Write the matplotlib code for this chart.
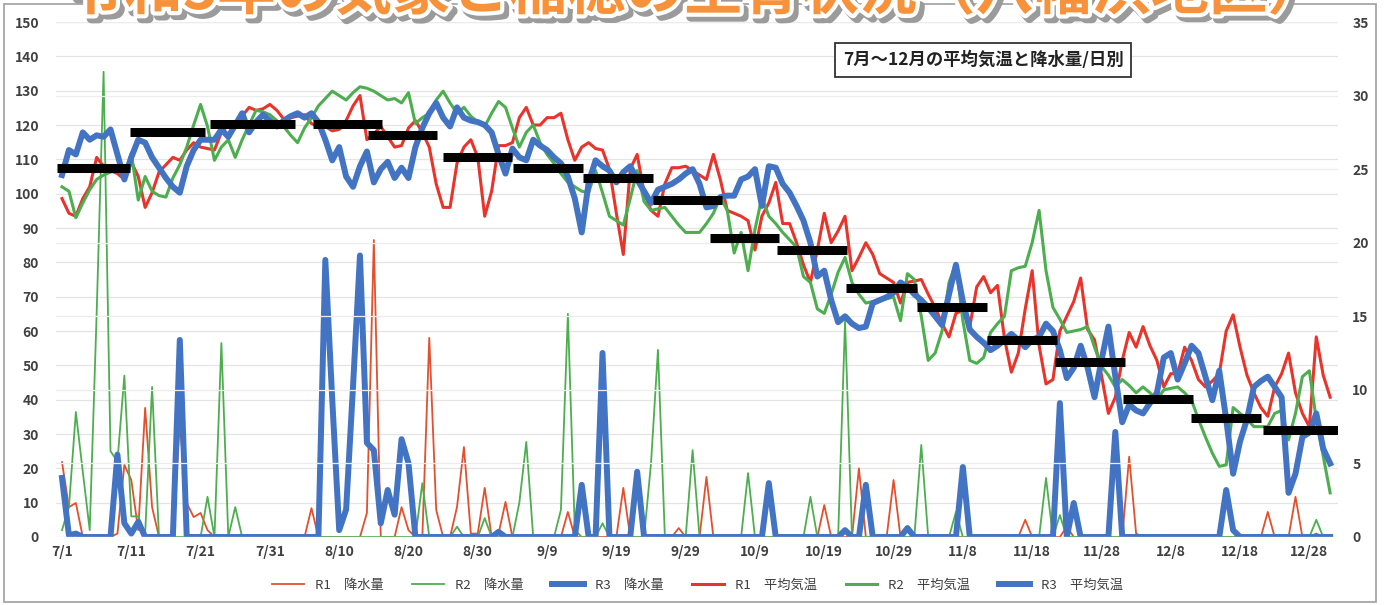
import matplotlib
matplotlib.use("Agg")
import matplotlib.pyplot as plt
import matplotlib.patheffects as pe
from matplotlib.patches import Rectangle
import numpy as np
import pandas as pd

plt.rcParams['font.family'] = ['Noto Sans CJK JP', 'DejaVu Sans']

title = "令和3年の気象と稲穂の生育状況（八幡浜地区）"
box_text = "7月～12月の平均気温と降水量/日別"
start_date = "2021-07-01"
n_days = 184

# daily precipitation (mm), 7/1 .. 12/31
rain_r1 = [21.8, 8.7, 9.9, 0, 0, 0, 0, 0, 1.0, 21.0,
           16.6, 2.0, 37.6, 8.7, 0, 0, 0, 33.0, 9.9, 5.8,
           7.0, 2.0, 0, 0, 0, 0, 0, 0, 0, 0,
           0, 0, 0, 0, 0, 0, 8.4, 0, 0, 0,
           0, 0, 0, 0, 7.0, 86.5, 0, 0, 0, 8.7,
           2.0, 0, 0, 58.0, 7.9, 0, 0, 8.7, 26.2, 1.0,
           1.0, 14.3, 0, 1.0, 10.2, 0, 0, 0, 0, 0,
           0, 0, 0, 7.3, 0, 0, 0, 0, 0, 0,
           0, 14.3, 0, 0, 0, 0, 0, 0, 0, 2.6,
           0, 0, 0, 17.5, 0, 0, 0, 0, 0, 0,
           0, 0, 0, 0, 0, 0, 0, 0, 0, 0,
           9.3, 0, 0, 0, 0, 20.0, 0, 0, 0, 0,
           16.6, 0, 0, 0, 0, 0, 0, 0, 0, 0,
           0, 0, 0, 0, 0, 0, 0, 0, 0, 5.0,
           0, 0, 0, 0, 0, 3.0, 0, 0, 0, 0,
           0, 0, 0, 0, 23.4, 1.0, 0, 0, 0, 0,
           0, 0, 0, 0, 0, 0, 0, 0, 0, 0,
           0, 0, 0, 0, 7.3, 0, 0, 0, 11.7, 0,
           0, 1.0, 0, 0]
rain_r2 = [2.0, 8.7, 36.4, 19.0, 2.0, 65.0, 135.5, 25.0, 22.0, 47.0,
           6.0, 6.0, 1.0, 43.7, 0, 0, 0, 0, 0, 0,
           0, 11.7, 0, 56.5, 0, 8.7, 0, 0, 0, 0,
           0, 0, 0, 0, 0, 0, 0, 0, 0, 0,
           0, 0, 0, 0, 0, 0, 0, 0, 0, 0,
           0, 0, 15.7, 0, 0, 0, 0, 3.0, 0, 0,
           0, 5.5, 0, 0, 0, 0, 10.0, 27.7, 0, 0,
           0, 0, 7.9, 65.0, 2.0, 0, 0, 0, 4.0, 0,
           0, 0, 0, 0, 0, 21.5, 54.5, 0, 0, 0,
           0, 25.3, 0, 0, 0, 0, 0, 0, 0, 18.6,
           0, 0, 0, 0, 0, 0, 0, 0, 11.7, 0,
           0, 0, 0, 63.0, 0, 0, 0, 0, 0, 0,
           0, 0, 0, 0, 26.8, 0, 0, 0, 0, 7.3,
           0, 0, 0, 0, 0, 0, 0, 0, 0, 0,
           0, 0, 17.2, 0, 6.4, 0, 0, 0, 0, 0,
           0, 0, 0, 0, 0, 0, 0, 0, 0, 0,
           0, 0, 0, 0, 0, 0, 0, 0, 0, 0,
           0, 0, 0, 0, 0, 0, 0, 0, 0, 0,
           0, 5.0, 0, 0]
rain_r3 = [17.2, 0.5, 1.0, 0, 0, 0, 0, 0, 24.0, 4.0,
           1.0, 4.4, 0, 0, 0, 0, 0, 57.4, 0, 0,
           0, 0, 0, 0, 0, 0, 0, 0, 0, 0,
           0, 0, 0, 0, 0, 0, 0, 0, 80.7, 40.0,
           2.0, 8.0, 44.0, 82.0, 27.4, 25.3, 4.0, 13.7, 6.5, 28.5,
           21.5, 0, 0, 0, 0, 0, 0, 0, 0, 0,
           0, 0, 0, 1.5, 0, 0, 0, 0, 0, 0,
           0, 0, 0, 0, 0, 15.2, 0, 0, 53.6, 0,
           0, 0, 0, 19.0, 0, 0, 0, 0, 0, 0,
           0, 0, 0, 0, 0, 0, 0, 0, 0, 0,
           0, 0, 15.7, 0, 0, 0, 0, 0, 0, 0,
           0, 0, 0, 2.0, 0, 0, 15.2, 0, 0, 0,
           0, 0, 2.6, 0, 0, 0, 0, 0, 0, 0,
           20.4, 0, 0, 0, 0, 0, 0, 0, 0, 0,
           0, 0, 0, 0, 39.0, 0, 9.9, 0, 0, 0,
           0, 0, 30.6, 0, 0, 0, 0, 0, 0, 0,
           0, 0, 0, 0, 0, 0, 0, 0, 13.7, 2.0,
           0, 0, 0, 0, 0, 0, 0, 0, 0, 0,
           0, 0, 0, 0]

# daily mean temperature (deg C)
temp_r1 = [23.0, 22.0, 21.8, 23.0, 23.8, 25.8, 25.2, 24.9, 24.7, 24.3,
           25.5, 24.5, 22.4, 23.4, 24.8, 25.3, 25.8, 25.6, 26.3, 26.8,
           26.5, 26.4, 26.3, 27.5, 28.0, 28.1, 28.6, 29.2, 29.0, 29.1,
           29.4, 29.0, 28.4, 28.5, 28.6, 28.7, 28.1, 27.9, 27.9, 27.6,
           27.7, 28.3, 29.3, 30.0, 27.0, 27.4, 27.9, 27.2, 26.5, 26.6,
           27.8, 28.3, 27.5, 26.5, 24.0, 22.4, 22.4, 25.4, 26.5, 27.0,
           25.8, 21.8, 23.5, 26.6, 26.6, 26.8, 28.5, 29.2, 28.0, 28.0,
           28.5, 28.5, 28.8, 27.0, 25.6, 26.5, 26.8, 26.4, 26.3, 25.0,
           22.0, 19.2, 25.0, 26.0, 23.4, 22.2, 21.8, 24.0, 25.1, 25.1,
           25.2, 24.9, 24.6, 24.3, 26.0, 24.3, 22.2, 22.0, 21.8, 21.5,
           19.5, 21.8, 22.7, 24.1, 21.3, 21.3, 20.0, 18.5, 17.3, 19.5,
           22.0, 20.0, 20.8, 21.8, 18.1, 19.0, 20.0, 19.2, 17.9, 17.6,
           17.3, 15.9, 17.3, 17.4, 17.5, 16.5, 15.6, 14.5, 13.6, 15.2,
           15.4, 14.3, 17.0, 17.7, 16.6, 17.1, 13.5, 11.2, 12.5, 15.5,
           18.1, 13.0, 10.4, 10.7, 14.0, 15.0, 16.0, 17.6, 14.1, 13.4,
           11.0, 8.4, 9.5, 12.0, 13.9, 12.9, 14.3, 13.0, 12.0, 10.2,
           11.1, 11.1, 12.9, 12.0, 10.7, 10.2, 10.6, 11.1, 14.0, 15.1,
           12.9, 11.0, 9.8, 8.8, 8.2, 10.2, 11.1, 12.5, 9.8, 8.4,
           7.5, 13.6, 11.0, 9.5]
temp_r2 = [23.8, 23.5, 21.7, 22.7, 23.6, 24.3, 24.6, 24.8, 24.9, 24.7,
           26.1, 22.9, 24.5, 23.5, 23.2, 23.1, 24.4, 25.3, 26.5, 28.0,
           29.4, 27.9, 25.6, 26.5, 27.0, 25.8, 27.0, 28.0, 29.0, 28.9,
           28.7, 28.3, 27.9, 27.3, 26.8, 27.8, 28.5, 29.3, 29.8, 30.3,
           30.0, 29.7, 30.2, 30.6, 30.5, 30.3, 30.0, 29.7, 29.8, 29.5,
           30.2, 28.1, 28.5, 28.8, 29.7, 30.3, 29.5, 28.8, 29.2, 28.6,
           28.2, 27.9, 28.8, 29.6, 29.2, 27.8, 26.5, 27.5, 28.0, 26.8,
           26.0, 25.4, 24.7, 24.1, 23.8, 23.5, 23.4, 24.9, 23.4, 21.8,
           21.5, 21.2, 23.0, 24.9, 22.8, 22.2, 22.3, 22.4, 21.8, 21.2,
           20.7, 20.7, 20.7, 21.3, 22.0, 23.1, 22.2, 19.3, 20.7, 18.1,
           20.9, 23.1, 21.8, 21.3, 20.7, 20.2, 19.7, 17.7, 17.3, 15.5,
           15.2, 16.5, 18.0, 19.0, 17.3, 16.5, 15.9, 16.0, 16.1, 16.2,
           16.3, 14.7, 17.9, 17.5, 15.0, 12.0, 12.5, 14.0, 17.3, 18.6,
           14.7, 12.0, 11.8, 12.2, 13.9, 14.5, 15.0, 18.1, 18.3, 18.4,
           20.0, 22.2, 18.1, 15.6, 14.8, 13.9, 14.0, 14.1, 14.3, 12.9,
           11.6, 11.0, 10.2, 10.7, 10.3, 9.8, 10.2, 9.8, 9.3, 10.0,
           10.1, 10.2, 9.8, 9.3, 8.0, 6.8, 5.7, 4.8, 4.9, 8.8,
           8.4, 8.0, 7.5, 7.5, 7.5, 8.4, 8.6, 6.6, 8.4, 10.9,
           11.3, 8.0, 5.5, 3.0]
temp_r3 = [24.6, 26.3, 26.0, 27.5, 27.0, 27.3, 27.2, 27.7, 26.0, 24.3,
           25.8, 27.0, 26.8, 25.8, 25.1, 24.4, 23.8, 23.4, 25.2, 26.3,
           27.0, 27.0, 27.0, 27.7, 27.2, 28.0, 28.8, 27.5, 28.2, 28.7,
           28.3, 27.9, 28.3, 28.6, 28.8, 28.5, 28.8, 28.2, 27.0, 25.6,
           26.5, 24.5, 23.8, 25.2, 26.2, 24.1, 25.0, 25.5, 24.4, 25.1,
           24.4, 26.5, 27.8, 28.8, 29.5, 28.5, 27.9, 29.2, 28.5, 28.3,
           28.2, 28.0, 27.5, 26.0, 24.7, 26.4, 25.8, 25.6, 27.0, 26.6,
           26.3, 25.8, 25.4, 24.5, 23.0, 20.7, 24.1, 25.6, 25.2, 24.9,
           24.1, 24.8, 25.2, 24.3, 23.5, 22.7, 23.6, 23.8, 24.0, 24.3,
           24.7, 25.0, 24.0, 22.4, 22.5, 23.1, 23.2, 23.2, 24.3, 24.5,
           25.0, 22.5, 25.2, 25.1, 24.0, 23.4, 22.5, 21.5, 20.0, 17.7,
           18.1, 16.1, 14.6, 15.0, 14.5, 14.2, 14.3, 15.9, 16.1, 16.3,
           16.6, 17.3, 17.0, 16.5, 16.1, 15.6, 15.0, 14.4, 16.5, 18.5,
           16.0, 14.1, 13.6, 13.2, 12.7, 13.0, 13.4, 13.8, 13.4, 12.9,
           13.4, 13.6, 14.5, 14.0, 12.7, 10.8, 11.5, 13.0, 11.5, 9.5,
           12.0, 14.3, 10.9, 7.8, 9.0, 8.6, 8.4, 9.1, 9.8, 12.2,
           12.5, 10.7, 11.8, 13.0, 12.5, 10.9, 9.3, 11.3, 8.0, 4.3,
           6.5, 8.0, 10.2, 10.6, 10.9, 10.2, 9.5, 3.0, 4.3, 6.8,
           7.1, 8.4, 6.0, 5.0]

# period averages (black bars): first day, last day (day index from 7/1), deg C
avg_start = [-0.7, 9.8, 21.4, 36.2, 44.2, 55.0, 65.1, 75.2, 85.3, 93.5,
             103.2, 113.1, 123.4, 133.5, 143.3, 153.1, 162.9, 173.3]
avg_end = [9.8, 20.6, 33.6, 46.2, 54.1, 64.9, 75.2, 85.3, 95.2, 103.5,
           113.3, 123.4, 133.5, 143.6, 153.4, 163.2, 173.0, 184.1]
avg_temp = [25.1, 27.5, 28.1, 28.1, 27.3, 25.8, 25.1, 24.4, 22.9, 20.3,
            19.5, 16.9, 15.6, 13.4, 11.9, 9.4, 8.1, 7.3]

red = '#E8342B'
red_thin = '#E2502E'
green = '#4DAE4F'
blue = '#4374C3'
txt = '#404040'

dates = pd.date_range(start_date, periods=n_days, freq='D')
days = np.arange(n_days)

fig = plt.figure(figsize=(13.87, 6.05), dpi=100)
ax = fig.add_axes([0.0402, 0.1124, 0.9248, 0.8512])
ax2 = ax.twinx()

# precipitation (left axis)
ax.plot(days, rain_r1, color=red_thin, lw=1.3, label='R1　降水量')
ax.plot(days, rain_r2, color=green, lw=1.3, label='R2　降水量')
ax.plot(days, rain_r3, color=blue, lw=4.3, label='R3　降水量', solid_joinstyle='round')

# temperature (right axis)
ax2.plot(days, temp_r1, color=red, lw=2.2, label='R1　平均気温')
ax2.plot(days, temp_r2, color=green, lw=2.2, label='R2　平均気温')
ax2.plot(days, temp_r3, color=blue, lw=4.3, label='R3　平均気温', solid_joinstyle='round')
ax2.hlines(avg_temp, avg_start, avg_end, colors='black', lw=6.5, capstyle='butt')

ax.set_xlim(-0.9, 184.2)
ax.set_ylim(0, 150)
ax2.set_ylim(0, 35)

ax.set_yticks(np.arange(0, 151, 10))
ax2.set_yticks(np.arange(0, 36, 5))
tick_days = days[::10]
ax.set_xticks(tick_days)
ax.set_xticklabels([f"{d.month}/{d.day}" for d in dates[::10]])

ax.grid(axis='y', color='#e4e4e4', lw=0.9)
ax2.grid(axis='y', color='#ececec', lw=0.9)
ax.set_axisbelow(True)

for a in (ax, ax2):
    for s in a.spines.values():
        s.set_visible(False)
    a.tick_params(length=0, labelsize=10, labelcolor=txt)
    for lab in a.get_xticklabels() + a.get_yticklabels():
        lab.set_fontweight('bold')
ax.tick_params(axis='x', pad=6)
ax.tick_params(axis='y', pad=12)
ax2.tick_params(axis='y', pad=10)

h1, l1 = ax.get_legend_handles_labels()
h2, l2 = ax2.get_legend_handles_labels()
fig.legend(h1 + h2, l1 + l2, loc='center', bbox_to_anchor=(0.503, 0.033), ncol=6,
           frameon=False, fontsize=9.5, handlelength=2.4, columnspacing=2.2,
           labelcolor=txt)

# outer frame
fig.patches.append(Rectangle((4 / 1387, 3 / 605), 1372 / 1387, 598 / 605,
                             transform=fig.transFigure, fill=False,
                             ec='#a6a6a6', lw=1.3))

fig.text(983 / 1387, 1 - 60 / 605, box_text, ha='center', va='center', fontsize=12.5,
         color='#222222', fontweight='bold',
         bbox=dict(boxstyle='square,pad=0.45', fc='white', ec='#333333', lw=1.3))

fig.text(0.502, 0.985, title, ha='center', va='baseline', fontsize=42,
         fontweight='bold', color='#F7923A',
         path_effects=[pe.Stroke(linewidth=7, foreground='#9b9b9b', offset=(3, -3)),
                       pe.Stroke(linewidth=6, foreground='white'),
                       pe.Normal()])

fig.savefig('out.png', dpi=100)
